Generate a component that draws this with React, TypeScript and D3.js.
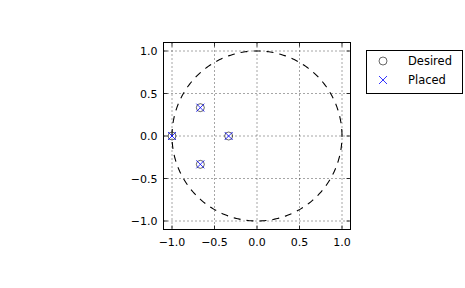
import React from "react";
import * as d3 from "d3";

const desiredX = [-1.0, -0.6667, -0.6667, -0.3333];
const desiredY = [0.0, 0.3333, -0.3333, 0.0];
const placedX = [-1.0, -0.6667, -0.6667, -0.3333];
const placedY = [0.0, 0.3333, -0.3333, 0.0];
const ticks = [-1.0, -0.5, 0.0, 0.5, 1.0];
const tickLabels = ["\u22121.0", "\u22120.5", "0.0", "0.5", "1.0"];
const legendLabels = ["Desired", "Placed"];

export default function App() {
  const W = 465, H = 288;
  const left = 163.5, right = 350.5, top = 42.5, bottom = 229.5;
  const x = d3.scaleLinear().domain([-1.1, 1.1]).range([left, right]);
  const y = d3.scaleLinear().domain([-1.1, 1.1]).range([bottom, top]);
  const font = "DejaVu Sans, sans-serif";
  const circlePts = d3.range(0, 361, 1).map((a) => [Math.cos((a * Math.PI) / 180), Math.sin((a * Math.PI) / 180)] as [number, number]);
  const line = d3.line<[number, number]>().x((d) => x(d[0])).y((d) => y(d[1]));
  const ms = 4;
  const xMark = (cx: number, cy: number, key: string) => (
    <path key={key} d={`M${cx - ms},${cy - ms}L${cx + ms},${cy + ms}M${cx - ms},${cy + ms}L${cx + ms},${cy - ms}`} stroke="#0000ff" strokeWidth={0.8} fill="none" />
  );
  return (
    <svg width={W} height={H} style={{ position: "absolute", left: 0, top: 0 }}>
      <rect width={W} height={H} fill="#fff" />
      <defs>
        <clipPath id="clip">
          <rect x={left} y={top} width={right - left} height={bottom - top} />
        </clipPath>
      </defs>
      {ticks.map((t, i) => (
        <g key={"g" + i}>
          <line x1={x(t)} x2={x(t)} y1={top} y2={bottom} stroke="#000" strokeWidth={0.7} strokeDasharray="1,3" />
          <line x1={left} x2={right} y1={y(t)} y2={y(t)} stroke="#000" strokeWidth={0.7} strokeDasharray="1,3" />
        </g>
      ))}
      <path d={line(circlePts) || ""} fill="none" stroke="#000" strokeWidth={1.1} strokeDasharray="7,6" clipPath="url(#clip)" />
      {desiredX.map((dx, i) => (
        <circle key={"c" + i} cx={x(dx)} cy={y(desiredY[i])} r={ms} fill="none" stroke="#000" strokeWidth={0.6} />
      ))}
      {placedX.map((px, i) => xMark(x(px), y(placedY[i]), "p" + i))}
      {ticks.map((t, i) => (
        <g key={"t" + i}>
          <line x1={x(t)} x2={x(t)} y1={bottom} y2={bottom - 4} stroke="#000" strokeWidth={0.8} />
          <line x1={x(t)} x2={x(t)} y1={top} y2={top + 4} stroke="#000" strokeWidth={0.8} />
          <line x1={left} x2={left + 4} y1={y(t)} y2={y(t)} stroke="#000" strokeWidth={0.8} />
          <line x1={right} x2={right - 4} y1={y(t)} y2={y(t)} stroke="#000" strokeWidth={0.8} />
          <text x={x(t)} y={bottom + 16} fontSize={11} fontFamily={font} textAnchor="middle">{tickLabels[i]}</text>
          <text x={left - 6} y={y(t) + 4} fontSize={11} fontFamily={font} textAnchor="end">{tickLabels[i]}</text>
        </g>
      ))}
      <rect x={left} y={top} width={right - left} height={bottom - top} fill="none" stroke="#000" strokeWidth={1} />
      <rect x={366.5} y={50.5} width={96} height={43} fill="#fff" stroke="#000" strokeWidth={1} />
      <circle cx={383} cy={61} r={ms} fill="none" stroke="#000" strokeWidth={0.6} />
      {xMark(383, 80, "lx")}
      {legendLabels.map((l, i) => (
        <text key={"l" + i} x={408} y={65 + i * 19} fontSize={11.5} fontFamily={font}>{l}</text>
      ))}
    </svg>
  );
}
